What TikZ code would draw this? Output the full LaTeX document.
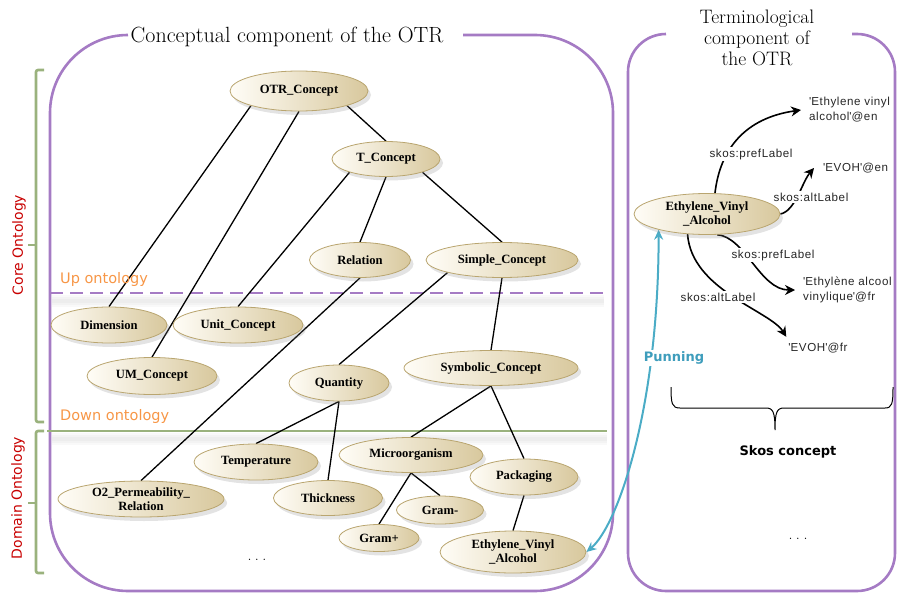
\documentclass[tikz,border=0pt]{standalone}
\usepackage{fontspec}
\newfontfamily\dvs{DejaVu Sans}
\newfontfamily\libsans[LetterSpace=5]{Liberation Sans}
\newfontfamily\libserif{Liberation Serif}
\usetikzlibrary{shapes.geometric,shadows,arrows.meta}
\pgfdeclarelayer{bg}
\pgfdeclarelayer{lines}
\pgfsetlayers{bg,lines,main}
\definecolor{boxpurple}{HTML}{A57BC4}
\definecolor{brgreen}{HTML}{9AB27D}
\definecolor{uporange}{HTML}{F79646}
\definecolor{corered}{HTML}{C80000}
\definecolor{punteal}{HTML}{4BACC6}
\definecolor{puntext}{HTML}{3E9DBC}
\definecolor{ellL}{HTML}{FFFDF7}
\definecolor{ellR}{HTML}{D8C89D}
\definecolor{ellB}{HTML}{B9A56F}
\begin{document}
\begin{tikzpicture}[x=1pt,y=-1pt,
  concept/.style={ellipse, draw=ellB, line width=0.8pt, left color=ellL, right color=ellR,
    inner sep=0pt, align=center, font=\libserif\bfseries\fontsize{12.6}{14}\selectfont,
    drop shadow={opacity=0.22, shadow xshift=3pt, shadow yshift=-4pt}},
  tree/.style={line width=1.3pt, black},
  boxline/.style={boxpurple, line width=2.6pt},
  bracket/.style={brgreen, line width=2.6pt, rounded corners=2pt},
  softshadow/.style={black, opacity=0.025},
  skos/.style={font=\libsans\fontsize{11.6}{13}\selectfont, text=black!85, fill=white, inner sep=1.5pt},
  lit/.style={font=\libsans\fontsize{11.6}{15}\selectfont, text=black!85, align=left, inner ysep=1pt},
  skarrow/.style={line width=1.6pt, black, -{Stealth[length=10pt,width=10pt]}},
  punarrow/.style={line width=2pt, punteal, {Stealth[length=10pt,width=9pt]}-{Stealth[length=10pt,width=9pt]}},
  side/.style={font=\dvs\fontsize{14}{16}\selectfont, text=corered, rotate=90, inner sep=0pt},
  layer/.style={font=\dvs\fontsize{14.5}{16}\selectfont, text=uporange, anchor=base west, inner sep=0pt},
  ellipsis/.style={font=\fontsize{16}{18}\selectfont, inner sep=0pt}
]
\useasboundingbox (0,0) rectangle (897,594);

% ---------- frames ----------
\begin{pgfonlayer}{bg}
\foreach \w in {4,8,12} {
  \draw[softshadow, line width=\w pt] (52,301) -- (604,301);
  \draw[softshadow, line width=\w pt] (52,439) -- (607,439);
}
\draw[boxline, rounded corners=78pt] (463,35) -- (613,35) -- (613,591) -- (50,591) -- (50,35) -- (128,35);
\draw[boxline, rounded corners=38pt] (852,34) -- (895,34) -- (895,591) -- (628,591) -- (628,34) -- (666,34);
\draw[boxpurple, line width=2.8pt, dash pattern=on 13pt off 7pt] (50,293) -- (604,293);
\draw[brgreen, line width=2.6pt] (47,431) -- (607,431);
\draw[bracket] (44,70) -- (36,70) -- (36,422) -- (44,422);
\draw[bracket] (36,245) -- (28,245);
\draw[bracket] (44,431) -- (36,431) -- (36,573) -- (44,573);
\draw[bracket] (36,503) -- (28,503);
\end{pgfonlayer}

% ---------- titles and side labels ----------
\node[font=\fontsize{22}{26}\selectfont, anchor=base] (t1) at (287,43) {Conceptual component of the OTR};
\node[font=\fontsize{19.5}{21}\selectfont, align=center] (t2) at (757,38) {Terminological\\component of\\the OTR};
\node[side] (core) at (19,245) {Core Ontology};
\node[side] (dom) at (18,498) {Domain Ontology};
\node[layer] (up) at (60,283) {Up ontology};
\node[layer] (down) at (60,420) {Down ontology};

% ---------- concept nodes ----------
\node[concept, minimum width=138pt, minimum height=40pt] (otr) at (299,91) {OTR\_Concept};
\node[concept, minimum width=108pt, minimum height=35pt] (tc) at (386,159) {T\_Concept};
\node[concept, minimum width=101pt, minimum height=35pt] (rel) at (360,260) {Relation};
\node[concept, minimum width=152pt, minimum height=35pt] (simple) at (502,260) {Simple\_Concept};
\node[concept, minimum width=116pt, minimum height=36pt] (dim) at (109,325) {Dimension};
\node[concept, minimum width=130pt, minimum height=36pt] (unit) at (238,325) {Unit\_Concept};
\node[concept, minimum width=130pt, minimum height=37pt] (um) at (152,376) {UM\_Concept};
\node[concept, minimum width=100pt, minimum height=36pt] (qty) at (339,383) {Quantity};
\node[concept, minimum width=174pt, minimum height=35pt] (sym) at (491,368) {Symbolic\_Concept};
\node[concept, minimum width=124pt, minimum height=36pt] (temp) at (256,462) {Temperature};
\node[concept, minimum width=109pt, minimum height=35pt] (thick) at (328,498) {Thickness};
\node[concept, minimum width=144pt, minimum height=35pt] (micro) at (411,455) {Microorganism};
\node[concept, minimum width=108pt, minimum height=36pt] (pack) at (524,477) {Packaging};
\node[concept, minimum width=87pt, minimum height=28pt] (gramm) at (440,510) {Gram-};
\node[concept, minimum width=80pt, minimum height=27pt] (gramp) at (379,538) {Gram+};
\node[concept, minimum width=146pt, minimum height=42pt] (eva) at (513,552) {Ethylene\_Vinyl\\\_Alcohol};
\node[concept, minimum width=166pt, minimum height=36pt] (o2) at (141,499) {O2\_Permeability\_\\Relation};
\node[concept, minimum width=146pt, minimum height=41pt] (evar) at (707,214) {Ethylene\_Vinyl\\\_Alcohol};
\node[ellipsis] (dotsl) at (257,560) {.\hspace{3.5pt}.\hspace{3.5pt}.};
\node[ellipsis] (dotsr) at (798,539) {.\hspace{3.5pt}.\hspace{3.5pt}.};

% ---------- tree connectors ----------
\begin{pgfonlayer}{lines}
\draw[tree] (otr.197) -- (dim.north);
\draw[tree] (otr.south) -- (um.north);
\draw[tree] (otr.343) -- (tc.north);
\draw[tree] (tc.200) -- (unit.north);
\draw[tree] (tc.south) -- (rel.north);
\draw[tree] (tc.340) -- (simple.north);
\draw[tree] (rel.south) -- (o2.north);
\draw[tree] (simple.193) -- (qty.north);
\draw[tree] (simple.south) -- (sym.north);
\draw[tree] (qty.south) -- (temp.north);
\draw[tree] (qty.south) -- (thick.north);
\draw[tree] (sym.south) -- (micro.north);
\draw[tree] (sym.south) -- (pack.north);
\draw[tree] (micro.south) -- (gramp.north);
\draw[tree] (micro.south) -- (gramm.north);
\draw[tree] (pack.south) -- (eva.north);
\end{pgfonlayer}

% ---------- terminological part ----------
\node[skos] (pl1) at (751,154) {skos:prefLabel};
\node[skos] (al1) at (811,197) {skos:altLabel};
\node[skos] (pl2) at (773,255) {skos:prefLabel};
\node[skos] (al2) at (718,297) {skos:altLabel};
\node[lit, anchor=west, inner xsep=8pt] (en1) at (801,110) {\textquotesingle Ethylene vinyl\\alcohol\textquotesingle @en};
\node[lit, anchor=west, inner xsep=9pt] (en2) at (814,168) {\textquotesingle EVOH\textquotesingle @en};
\node[lit, anchor=west, inner xsep=8pt] (fr1) at (795,290) {\textquotesingle Ethylène alcool\\vinylique\textquotesingle @fr};
\node[lit, inner xsep=2pt, inner ysep=6pt] (fr2) at (818,348) {\textquotesingle EVOH\textquotesingle @fr};
\node[font=\dvs\bfseries\fontsize{13}{15}\selectfont, text=puntext, fill=white, inner sep=2pt] (pun) at (674,358) {Punning};
\node[font=\dvs\bfseries\fontsize{13}{15}\selectfont] (skc) at (788,452) {Skos concept};

\begin{pgfonlayer}{lines}
\draw[skarrow] (evar.69) .. controls +(5,-44) and +(-56,8) .. (en1.west);
\draw[skarrow] (evar.east) .. controls +(15,-3) and +(-12,14) .. (en2.west);
\draw[skarrow] (evar.296) .. controls +(28,2) and +(-35,0) .. (fr1.west);
\draw[skarrow] (evar.226) .. controls +(4,56) and +(-16,-26) .. (fr2.north west);
\draw[punarrow] (eva.east) .. controls +(31,-26) and +(0,180) .. (evar.198);
\draw[black, line width=1pt] (671,387) .. controls (671,404) and (672,408) .. (680,408) -- (766,408)
  .. controls (773,408) and (775,412) .. (775,430)
  .. controls (775,412) and (777,408) .. (784,408) -- (885,408)
  .. controls (892,408) and (893,404) .. (893,387);
\end{pgfonlayer}
\end{tikzpicture}
\end{document}
